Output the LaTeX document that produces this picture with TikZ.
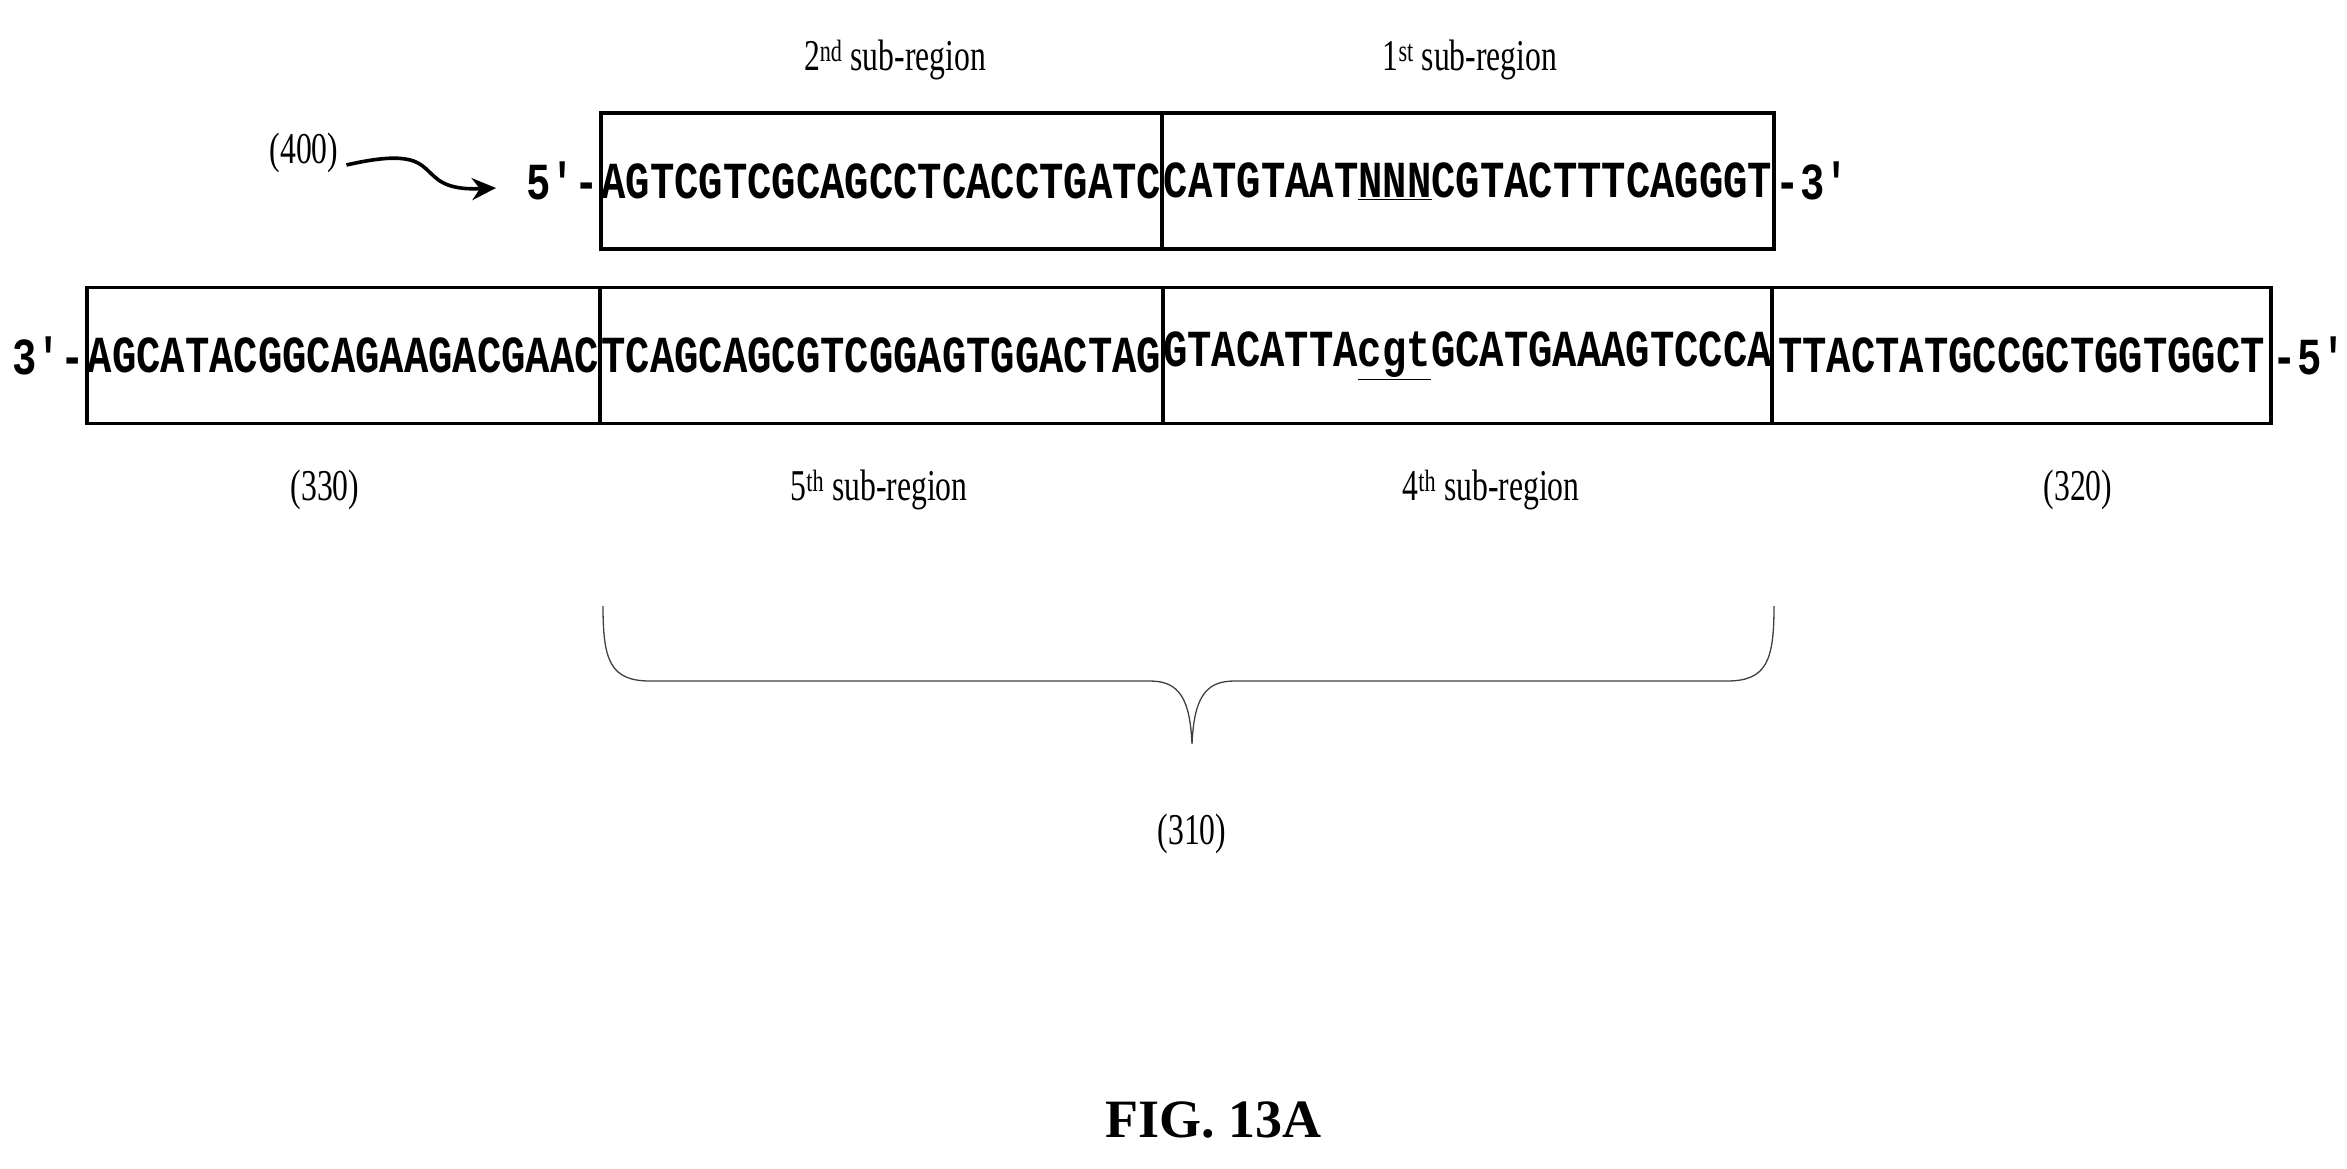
\documentclass[tikz,border=0pt]{standalone}
\usepackage{fontspec}
\usetikzlibrary{arrows.meta}
\newfontfamily\seqf{Liberation Mono}[FakeStretch=0.78]
\newfontfamily\labf{Liberation Serif}[FakeStretch=0.72]
\setmainfont{Liberation Serif}
\newcommand{\ul}[1]{\underline{#1}}
\begin{document}
\begin{tikzpicture}[x=1pt,y=-1pt,
  seqbox/.style={draw,line width=3.4pt,inner sep=0pt,minimum height=136pt,font=\seqf\bfseries\fontsize{52}{52}\selectfont},
  seqtxt/.style={inner sep=0pt,font=\seqf\bfseries\fontsize{52}{52}\selectfont},
  lab/.style={inner sep=0pt,font=\labf\fontsize{44}{44}\selectfont}]
\useasboundingbox (0,0) rectangle (2347,1168);
% top strand
\node[seqbox,minimum width=561pt] (t2) at (881.5,181) {AGTCGTCGCAGCCTCACCTGATC};
\node[seqbox,minimum width=612pt] (t1) at (1468,181) {CATGTAAT\ul{NNN}CGTACTTTCAGGGT};
\node[seqtxt,anchor=east] (t5) at (t2.west) {5′-};
\node[seqtxt,anchor=west] (t3) at (t1.east) {-3′};
% bottom strand
\node[seqbox,minimum width=513pt] (b330) at (343.5,355.5) {AGCATACGGCAGAAGACGAAC};
\node[seqbox,minimum width=563pt] (b5) at (881.5,355.5) {TCAGCAGCGTCGGAGTGGACTAG};
\node[seqbox,minimum width=609pt] (b4) at (1467.5,355.5) {GTACATTA\ul{cgt}GCATGAAAGTCCCA};
\node[seqbox,minimum width=499pt] (b320) at (2021.5,355.5) {TTACTATGCCGCTGGTGGCT};
\node[seqtxt,anchor=east] (b3p) at (b330.west) {3′-};
\node[seqtxt,anchor=west] (b5p) at (b320.east) {-5′};
% labels
\node[lab] (l2) at (895,60) {2\textsuperscript{nd} sub-region};
\node[lab] (l1) at (1470,60) {1\textsuperscript{st} sub-region};
\node[lab] (l400) at (304,153) {(400)};
\node[lab] (l330) at (325,490) {(330)};
\node[lab] (l5) at (879,490) {5\textsuperscript{th} sub-region};
\node[lab] (l4) at (1491,490) {4\textsuperscript{th} sub-region};
\node[lab] (l320) at (2078,490) {(320)};
\node[lab] (l310) at (1192,834) {(310)};
\node[inner sep=0pt,font=\bfseries\fontsize{54}{54}\selectfont] (fig) at (1213,1120) {FIG. 13A};
% arrow
\coordinate (arrEnd) at (496,188);
\draw[line width=3.6pt,-{Stealth[length=24pt,width=22pt]}] ([xshift=8pt,yshift=-12pt]l400.east) .. controls (455,140) and (405,192) .. (arrEnd);
% brace
\coordinate (brL) at (603,606);
\coordinate (brR) at (1774,606);
\coordinate (brT) at (1192,744);
\draw[line width=1.3pt,black!75] (brL) .. controls (603,660) and (610,681) .. (650,681)
  -- (1150,681) .. controls (1180,681) and (1190,700) .. (brT)
  .. controls (1194,700) and (1204,681) .. (1234,681)
  -- (1727,681) .. controls (1767,681) and (1774,660) .. (brR);
\end{tikzpicture}
\end{document}
